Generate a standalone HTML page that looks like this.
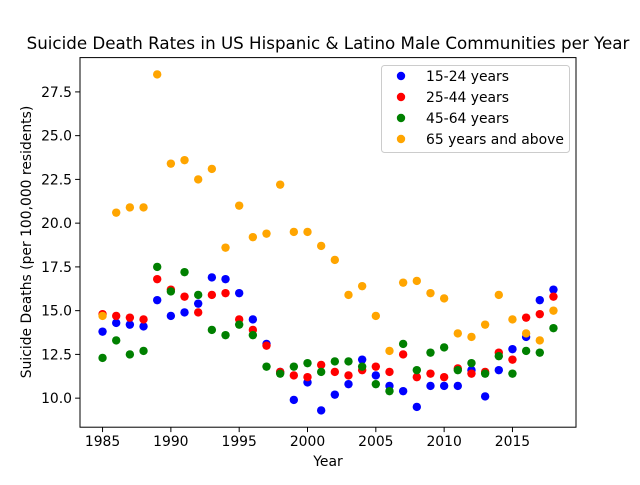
<!DOCTYPE html>
<html><head><meta charset="utf-8"><style>
body{margin:0;background:#fff}
svg text{font-family:"DejaVu Sans","Liberation Sans",sans-serif;fill:#000}
</style></head><body>
<svg id="chart" width="640" height="480" xmlns="http://www.w3.org/2000/svg">
<rect width="640" height="480" fill="#fff"/>
<text x="328" y="49" font-size="16.7" text-anchor="middle">Suicide Death Rates in US Hispanic &amp; Latino Male Communities per Year</text>
<g id="marks"></g>
<rect x="80" y="57.6" width="496" height="369.6" fill="none" stroke="#000" stroke-width="1"/>
<g id="xt"></g><g id="yt"></g>
<text x="328" y="466" font-size="13.9" text-anchor="middle">Year</text>
<text transform="translate(31,242) rotate(-90)" font-size="13.9" text-anchor="middle">Suicide Deaths (per 100,000 residents)</text>
<g id="legend">
<rect x="381.5" y="65.5" width="188" height="87" rx="3" fill="#fff" fill-opacity="0.8" stroke="#ccc"/>
</g>
</svg>
<script>
const years=[];for(let y=1985;y<=2018;y++)years.push(y);
const s1524=[13.8,14.3,14.2,14.1,15.6,14.7,14.9,15.4,16.9,16.8,16.0,14.5,13.1,11.5,9.9,10.9,9.3,10.2,10.8,12.2,11.3,10.7,10.4,9.5,10.7,10.7,10.7,11.6,10.1,11.6,12.8,13.5,15.6,16.2];
const s2544=[14.8,14.7,14.6,14.5,16.8,16.2,15.8,14.9,15.9,16.0,14.5,13.9,13.0,11.5,11.3,11.2,11.9,11.5,11.3,11.6,11.8,11.5,12.5,11.2,11.4,11.2,11.7,11.4,11.5,12.6,12.2,14.6,14.8,15.8];
const s4564=[12.3,13.3,12.5,12.7,17.5,16.1,17.2,15.9,13.9,13.6,14.2,13.6,11.8,11.4,11.8,12.0,11.5,12.1,12.1,11.8,10.8,10.4,13.1,11.6,12.6,12.9,11.6,12.0,11.4,12.4,11.4,12.7,12.6,14.0];
const s65=[14.7,20.6,20.9,20.9,28.5,23.4,23.6,22.5,23.1,18.6,21.0,19.2,19.4,22.2,19.5,19.5,18.7,17.9,15.9,16.4,14.7,12.7,16.6,16.7,16.0,15.7,13.7,13.5,14.2,15.9,14.5,13.7,13.3,15.0];
const seriesNames=["15-24 years","25-44 years","45-64 years","65 years and above"];
const seriesColors=["blue","red","green","orange"];
const xTicks=[1985,1990,1995,2000,2005,2010,2015];
const yTicks=[10.0,12.5,15.0,17.5,20.0,22.5,25.0,27.5];
const NS="http://www.w3.org/2000/svg";
const all=[s1524,s2544,s4564,s65];
const flat=all.flat();
const xmin0=Math.min(...years),xmax0=Math.max(...years),xm=(xmax0-xmin0)*0.05;
const ymin0=Math.min(...flat),ymax0=Math.max(...flat),ym=(ymax0-ymin0)*0.05;
const L=80,R=576,T=57.6,B=427.2;
const X=v=>L+(v-(xmin0-xm))/((xmax0+xm)-(xmin0-xm))*(R-L);
const Y=v=>B-(v-(ymin0-ym))/((ymax0+ym)-(ymin0-ym))*(B-T);
function mk(tag,attrs,parent){const e=document.createElementNS(NS,tag);for(const k in attrs)e.setAttribute(k,attrs[k]);parent.appendChild(e);return e;}
const marks=document.getElementById('marks');
all.forEach((s,si)=>{s.forEach((v,i)=>{
 const c=mk('circle',{cx:X(years[i]),cy:Y(v),r:4.2,fill:seriesColors[si]},marks);
 
 
});});
const xt=document.getElementById('xt');
xTicks.forEach(t=>{const x=X(t);
 const l=mk('line',{x1:x,x2:x,y1:B,y2:B+4.9,stroke:'#000'},xt);
 
 
 const tx=mk('text',{x:x,y:B+19,'font-size':13.9,'text-anchor':'middle'},xt);tx.textContent=t;
 
 
});
const yt=document.getElementById('yt');
yTicks.forEach(t=>{const y=Y(t);
 const l=mk('line',{x1:L-4.9,x2:L,y1:y,y2:y,stroke:'#000'},yt);
 
 
 const tx=mk('text',{x:L-8,y:y+5,'font-size':13.9,'text-anchor':'end'},yt);tx.textContent=t.toFixed(1);
 
 
});
const lg=document.getElementById('legend');
seriesNames.forEach((n,i)=>{const y=76+i*21;
 const c=mk('circle',{cx:401,cy:y,r:4.2,fill:seriesColors[i]},lg);
 
 
 const t=mk('text',{x:426,y:y+5,'font-size':13.9},lg);t.textContent=n;
 
 
});
</script>
</body></html>
